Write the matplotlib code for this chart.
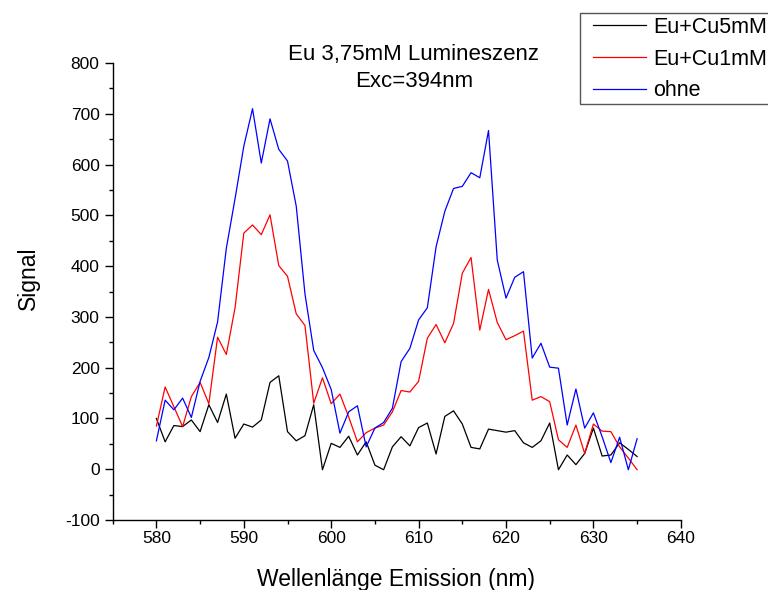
import matplotlib
matplotlib.use("Agg")
import matplotlib.pyplot as plt
from matplotlib.ticker import MultipleLocator
from matplotlib.patches import Rectangle

plt.rcParams['font.family'] = ['Liberation Sans', 'DejaVu Sans']
plt.rcParams['axes.unicode_minus'] = False

wavelength = list(range(580, 636))

eu_cu5 = [100, 54, 86, 84, 97, 74, 127, 92, 148, 61,
          89, 83, 97, 171, 184, 74, 56, 66, 127, -1,
          51, 43, 65, 28, 54, 8, -1, 44, 64, 46,
          82, 91, 30, 104, 115, 89, 43, 40, 79, 76,
          73, 76, 52, 43, 56, 91, -1, 28, 9, 31,
          81, 26, 28, 52, 39, 25]

eu_cu1 = [85, 162, 123, 84, 143, 171, 129, 260, 226, 318,
          465, 481, 462, 501, 401, 380, 306, 283, 130, 180,
          129, 148, 103, 54, 72, 81, 87, 113, 155, 152,
          173, 258, 285, 249, 287, 386, 417, 274, 354, 289,
          255, 263, 272, 136, 143, 133, 58, 43, 87, 31,
          89, 75, 74, 44, 22, -1]

ohne = [56, 136, 117, 140, 102, 173, 220, 290, 435, 533,
        636, 710, 603, 690, 630, 607, 518, 345, 234, 200,
        157, 71, 113, 125, 44, 81, 92, 120, 212, 238,
        294, 318, 438, 508, 553, 557, 584, 574, 667, 412,
        337, 378, 389, 219, 248, 201, 199, 87, 158, 81,
        111, 64, 13, 63, -1, 60]

labels = ["Eu+Cu5mM", "Eu+Cu1mM", "ohne"]
colors = ["#000000", "#ff0000", "#0000ff"]

W, H = 768, 590
fig = plt.figure(figsize=(W / 100, H / 100), dpi=100)
ax = fig.add_axes([112.7 / W, 1 - 520 / H, (680.8 - 112.7) / W, (520 - 63) / H])

for series, lab, col in zip([eu_cu5, eu_cu1, ohne], labels, colors):
    ax.plot(wavelength, series, color=col, lw=0.9, label=lab)

ax.set_xlim(575, 640)
ax.set_ylim(-100, 800)
ax.xaxis.set_major_locator(MultipleLocator(10))
ax.xaxis.set_minor_locator(MultipleLocator(5))
ax.yaxis.set_major_locator(MultipleLocator(100))
ax.yaxis.set_minor_locator(MultipleLocator(50))
ax.spines['top'].set_visible(False)
ax.spines['right'].set_visible(False)
for s in ['left', 'bottom']:
    ax.spines[s].set_linewidth(1.0)
ax.tick_params(which='major', direction='out', length=5.5, width=1.0,
               labelsize=12.5, pad=2.5)
ax.tick_params(which='minor', direction='out', length=3, width=1.0)
ax.tick_params(axis='y', which='major', pad=4)

fig.text(396 / W, 1 - 586 / H, "Wellenlänge Emission (nm)", ha='center',
         va='baseline', fontsize=16.5)
fig.text(28 / W, 1 - 278 / H, "Signal", ha='center', va='center',
         rotation=90, fontsize=16.5)

fig.text(413 / W, 1 - 60 / H, "Eu 3,75mM Lumineszenz", ha='center',
         va='baseline', fontsize=16)
fig.text(414 / W, 1 - 87 / H, "Exc=394nm", ha='center',
         va='baseline', fontsize=16)

leg = fig.legend(loc='upper left', bbox_to_anchor=(580 / W, 1 - 4 / H),
                 fontsize=15.5, frameon=False, handlelength=2.45,
                 handletextpad=0.33, labelspacing=0.5, borderpad=0.6,
                 borderaxespad=0)

fig.add_artist(Rectangle((580 / W, 1 - 104 / H), 200 / W, 91 / H,
                         transform=fig.transFigure, fill=False,
                         edgecolor='#555555', linewidth=1.0, clip_on=False))

fig.savefig("out.png", dpi=100)
